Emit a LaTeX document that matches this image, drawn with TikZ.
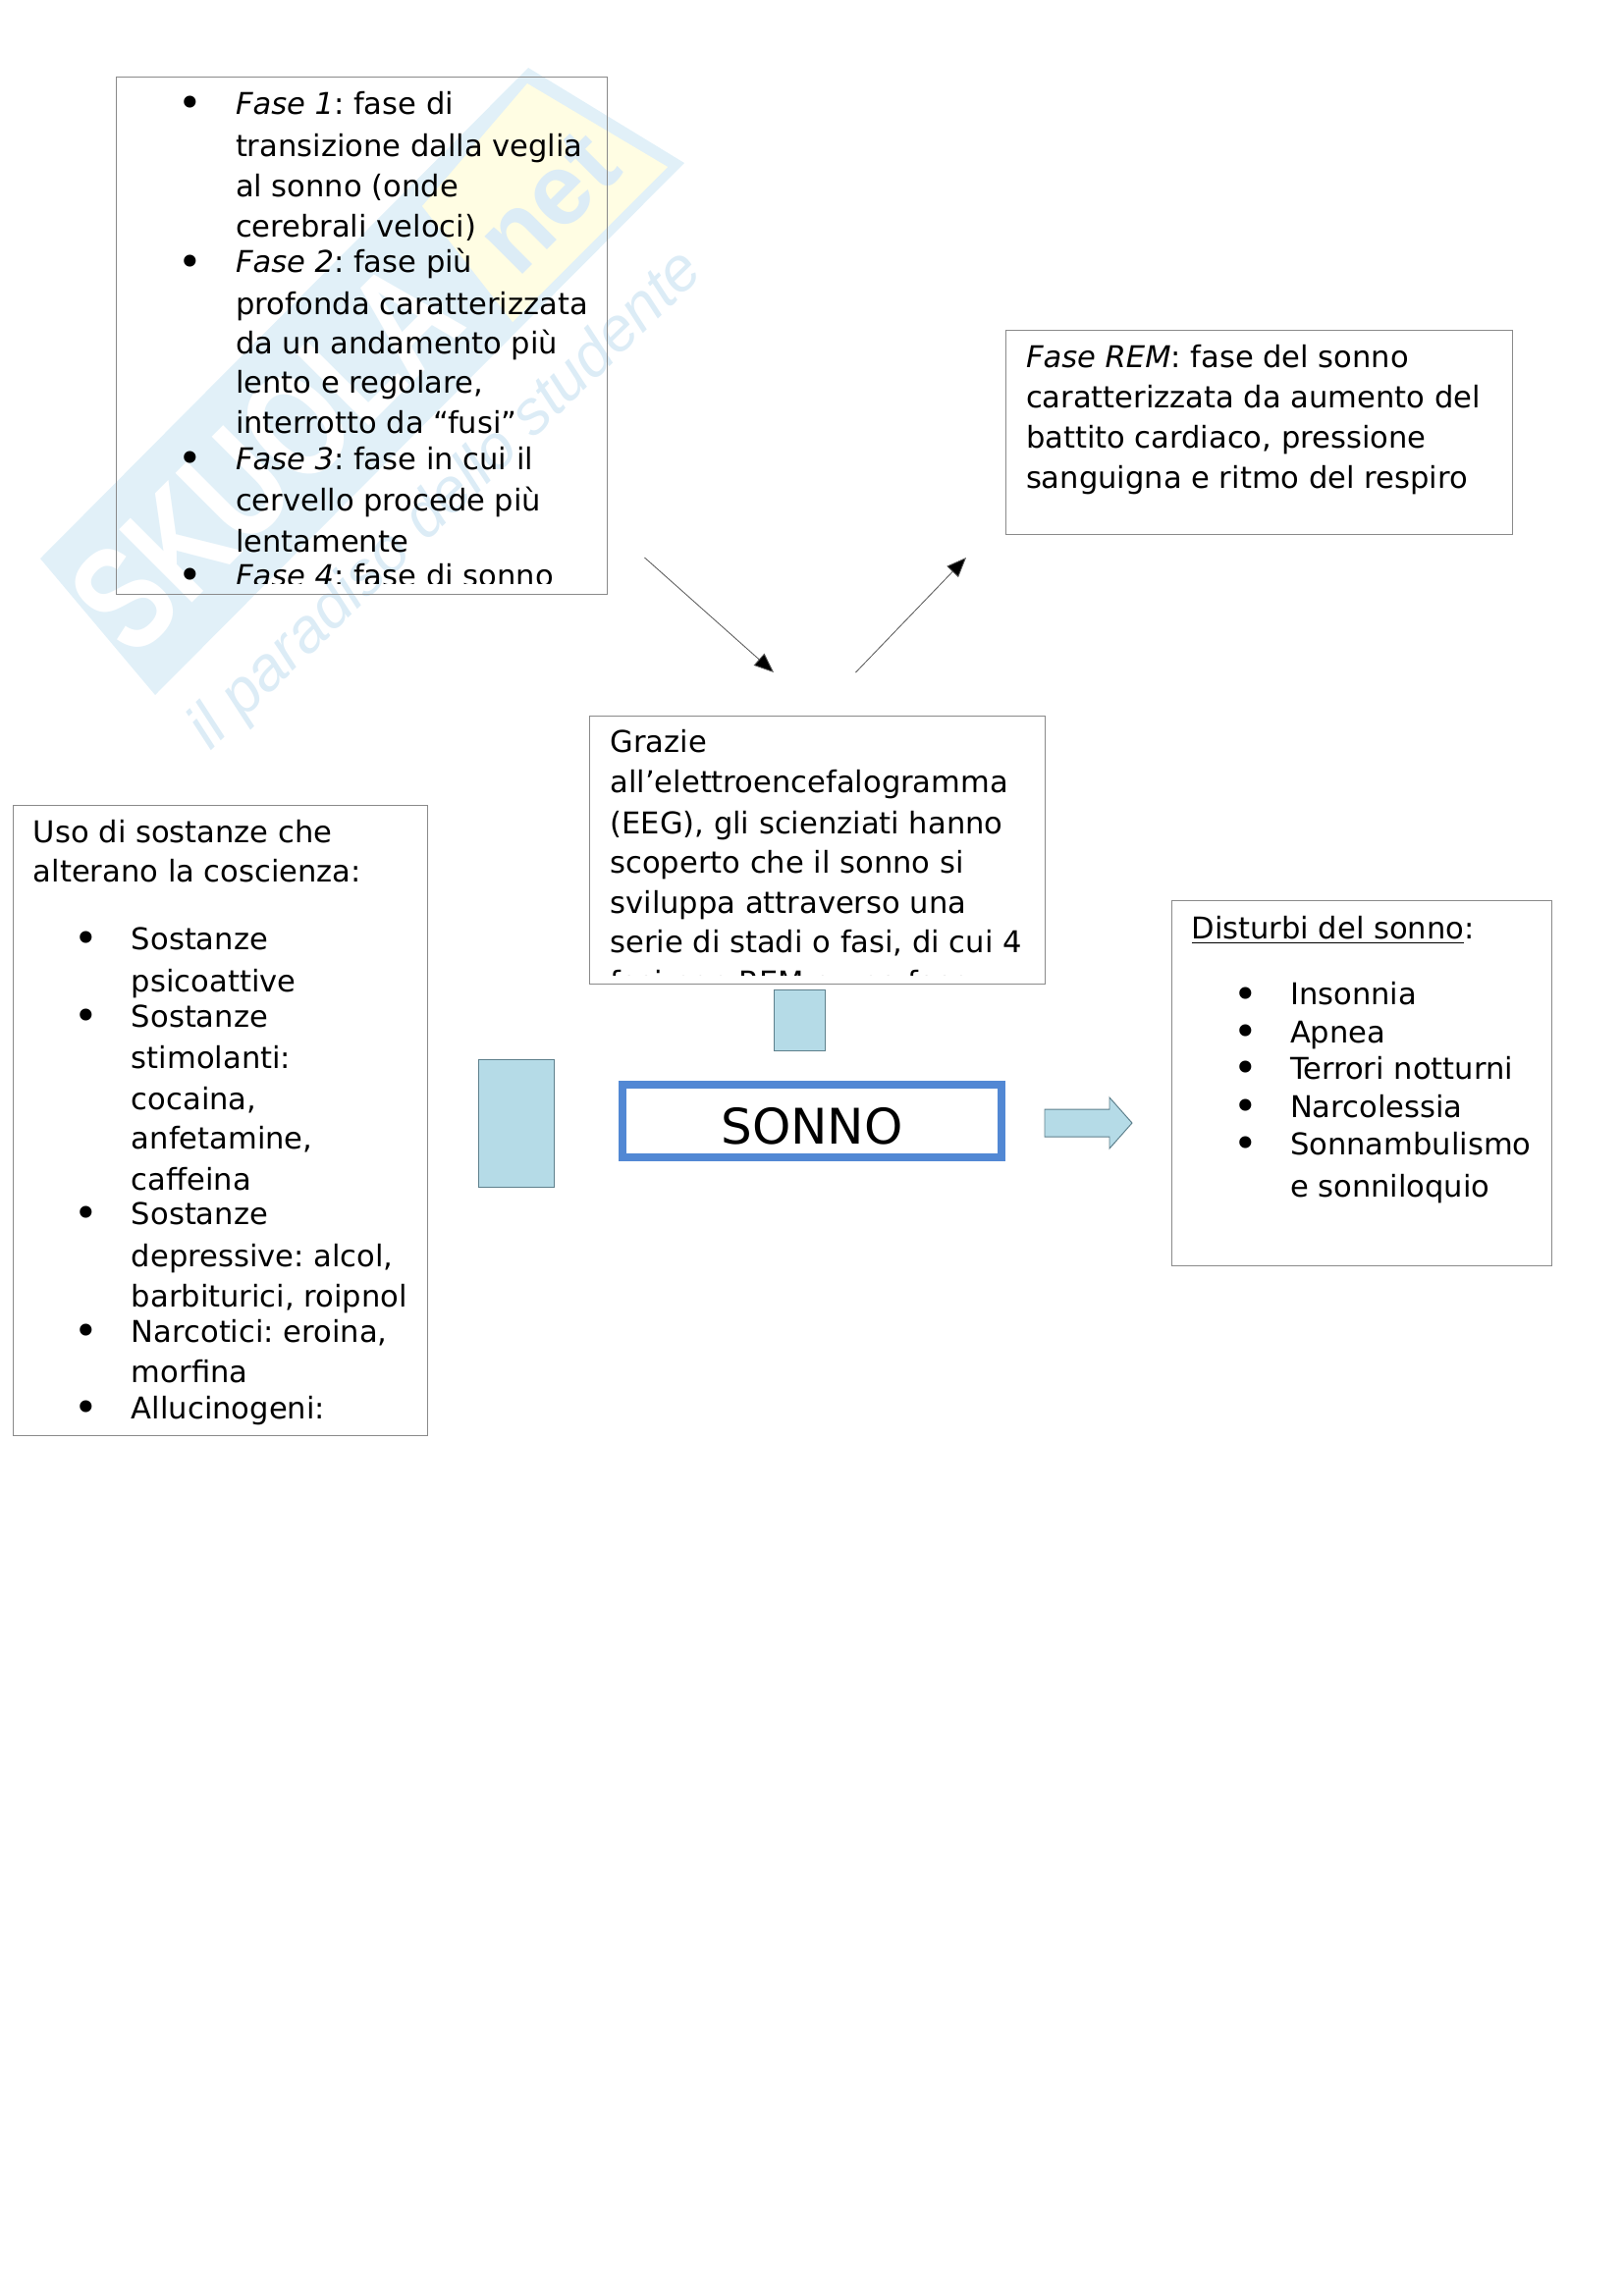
\documentclass[tikz,border=0pt]{standalone}
\usepackage{fontspec}
\setmainfont{DejaVu Sans}
\newfontfamily\wmfont{Liberation Sans}
\usetikzlibrary{arrows.meta}
\definecolor{boxline}{HTML}{8A8A8A}
\definecolor{lightfill}{HTML}{B5DBE7}
\definecolor{lightline}{HTML}{5E808C}
\definecolor{sonnoblue}{HTML}{5288D4}
\definecolor{wmblue}{HTML}{E1F0F8}
\definecolor{wmyellow}{HTML}{FFFDE3}
\definecolor{wmtext}{HTML}{DCECF6}
\newcounter{tlc}
\newcommand{\tl}[3]{\stepcounter{tlc}\node[lineText] (tl\arabic{tlc}) at (#1,#2) {#3};}
\newcommand{\bl}[2]{\stepcounter{tlc}\node[bulletText] (tl\arabic{tlc}) at (#1,#2) {•};}
\tikzset{
  x=0.36pt,y=-0.36pt,
  lineText/.style={anchor=base west,inner sep=0pt,outer sep=0pt,font=\fontsize{11}{13}\selectfont\frenchspacing},
  bulletText/.style={anchor=base,inner sep=0pt,outer sep=0pt,yshift=-1.3pt,font=\fontsize{15}{15}\selectfont},
  textBox/.style={draw=boxline,line width=0.35pt},
  blueShape/.style={draw=lightline,fill=lightfill,line width=0.35pt},
  thinArrow/.style={draw=black!65,line width=0.3pt,-{Triangle[length=7.2pt,width=5.8pt,fill=black]}},
}
\begin{document}
\begin{tikzpicture}
\useasboundingbox (0,0) rectangle (1653,2339);
% watermark
\fill[wmblue] (41,569) -- (538,69) -- (697,166) -- (158,708) -- cycle;
\fill[wmyellow] (537,85) -- (680,170) -- (522,328) -- (430,210) -- cycle;
\node[rotate=45,text=white,font=\wmfont\bfseries\fontsize{55}{55}\selectfont,anchor=base west,inner sep=0pt] (wmA) at (136,674) {\scalebox{0.75}[1]{SKUOLA}};
\node[rotate=45,text=wmtext,font=\wmfont\bfseries\fontsize{37}{37}\selectfont,anchor=base west,inner sep=0pt] (wmB) at (527,285) {net};
\node[rotate=44,text=wmtext,font=\wmfont\itshape\fontsize{22.8}{23}\selectfont,anchor=base west,inner sep=0pt] (wmC) at (214,766) {il paradiso dello studente};
% boxes
\draw[textBox] (118,78) rectangle (618,605);
\draw[textBox] (1024,336) rectangle (1540,544);
\draw[textBox] (600,729) rectangle (1064.5,1002);
\draw[textBox] (13,820) rectangle (435.5,1462.5);
\draw[textBox] (1193,917) rectangle (1580.5,1289);
% blue shapes
\draw[blueShape] (788,1008) rectangle (840.5,1070);
\draw[blueShape] (487,1079) rectangle (564.5,1209);
\draw[blueShape] (1064,1130) -- (1130,1130) -- (1130,1118) -- (1153,1144) -- (1130,1170) -- (1130,1158) -- (1064,1158) -- cycle;
% SONNO
\node[draw=sonnoblue,line width=2.7pt,minimum width=139pt,minimum height=26.6pt,inner sep=0pt,anchor=center] (sonnoBox) at (827,1142) {};
\node[anchor=base,inner sep=0pt,font=\fontsize{18}{20}\selectfont] (sonnoLabel) at (827,1165) {SONNO};
% connectors
\coordinate (a1s) at (656.5,568);
\coordinate (a1e) at (788,685);
\coordinate (a2s) at (871.5,685);
\coordinate (a2e) at (984,568);
\draw[thinArrow] (a1s) -- (a1e);
\draw[thinArrow] (a2s) -- (a2e);
% box 1
\begin{scope}
\clip (118,78) rectangle (618,594);
\bl{194}{116}\tl{240}{116}{{\itshape Fase 1}: fase di}
\tl{240}{159}{transizione dalla veglia}
\tl{240}{200}{al sonno (onde}
\tl{240}{241}{cerebrali veloci)}
\bl{194}{277.5}\tl{240}{277.5}{{\itshape Fase 2}: fase più}
\tl{240}{320}{profonda caratterizzata}
\tl{240}{360}{da un andamento più}
\tl{240}{400}{lento e regolare,}
\tl{240}{441}{interrotto da “fusi”}
\bl{194}{478}\tl{240}{478}{{\itshape Fase 3}: fase in cui il}
\tl{240}{520}{cervello procede più}
\tl{240}{562}{lentamente}
\bl{194}{597}\tl{240}{597}{{\itshape Fase 4}: fase di sonno}
\end{scope}
% REM
\tl{1045}{374.5}{{\itshape Fase REM}: fase del sonno}
\tl{1045}{415.5}{caratterizzata da aumento del}
\tl{1045}{456.5}{battito cardiaco, pressione}
\tl{1045}{497.5}{sanguigna e ritmo del respiro}
% Grazie
\begin{scope}
\clip (600,729) rectangle (1064.5,993);
\tl{621.5}{766}{Grazie}
\tl{621.5}{807.5}{all’elettroencefalogramma}
\tl{621.5}{849}{(EEG), gli scienziati hanno}
\tl{621.5}{889.5}{scoperto che il sonno si}
\tl{621.5}{930}{sviluppa attraverso una}
\tl{621.5}{970}{serie di stadi o fasi, di cui 4}
\tl{621.5}{1011}{fasi non REM e una fase}
\end{scope}
% Uso
\tl{34}{858}{Uso di sostanze che}
\tl{34}{898}{alterano la coscienza:}
\bl{88}{967}\tl{134}{967}{Sostanze}
\tl{134}{1010}{psicoattive}
\bl{88}{1046}\tl{134}{1046}{Sostanze}
\tl{134}{1088}{stimolanti:}
\tl{134}{1130}{cocaina,}
\tl{134}{1170.5}{anfetamine,}
\tl{134}{1212}{caffeina}
\bl{88}{1247}\tl{134}{1247}{Sostanze}
\tl{134}{1290}{depressive: alcol,}
\tl{134}{1331}{barbiturici, roipnol}
\bl{88}{1367}\tl{134}{1367}{Narcotici: eroina,}
\tl{134}{1408}{morfina}
\bl{88}{1445}\tl{134}{1445}{Allucinogeni:}
% Disturbi
\tl{1213.5}{956}{\underline{Disturbi del sonno}:}
\bl{1269}{1023.5}\tl{1314}{1023.5}{Insonnia}
\bl{1269}{1062}\tl{1314}{1062}{Apnea}
\bl{1269}{1099}\tl{1314}{1099}{Terrori notturni}
\bl{1269}{1138}\tl{1314}{1138}{Narcolessia}
\bl{1269}{1176}\tl{1314}{1176}{Sonnambulismo}
\tl{1314}{1219}{e sonniloquio}
\end{tikzpicture}
\end{document}
